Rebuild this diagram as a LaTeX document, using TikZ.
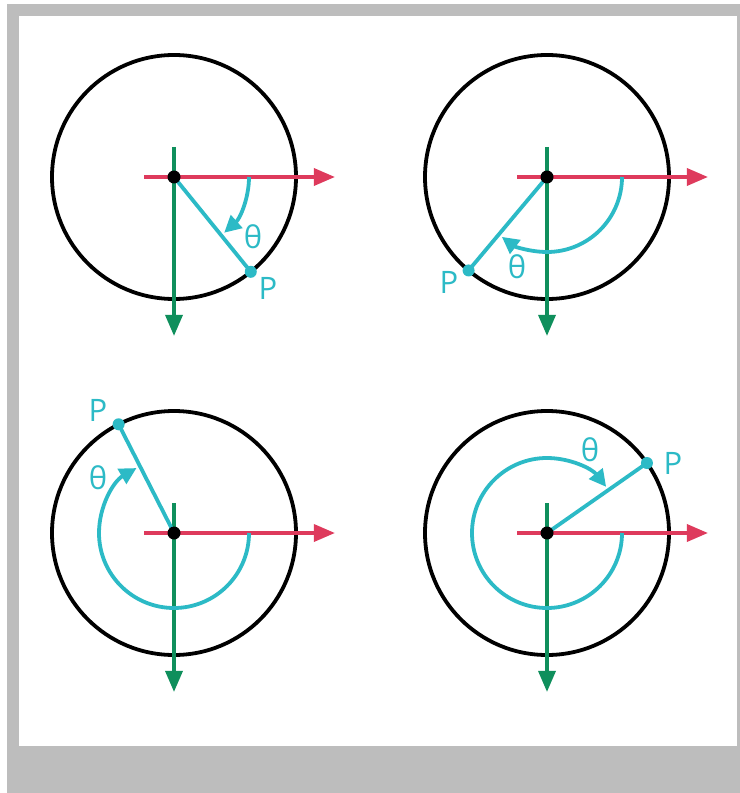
\documentclass[tikz,border=0pt]{standalone}
\usepackage{fontspec}
\setsansfont{Open Sans}
\usepackage{xcolor}
\usepackage{tikz}
\usetikzlibrary{arrows.meta}

\definecolor{framegray}{HTML}{BDBDBD}
\definecolor{axisred}{HTML}{DE3A5C}
\definecolor{axisgreen}{HTML}{0F8F5C}
\definecolor{polarcyan}{HTML}{2CBAC6}

\begin{document}
\begin{tikzpicture}[
    x=0.025cm, y=-0.025cm,
    line width=2.7pt,
    font=\sffamily\fontsize{22}{24}\selectfont,
    rim/.style={draw=black},
    xaxis/.style={draw=axisred, -{Triangle[length=15pt, width=12pt]}},
    yaxis/.style={draw=axisgreen, -{Triangle[length=15pt, width=12pt]}},
    ray/.style={draw=polarcyan},
    sweep/.style={draw=polarcyan, -{Triangle[length=12pt, width=12pt]}},
    lbl/.style={text=polarcyan, inner sep=0pt}
]

% =========================================================
% FRAME
% =========================================================
\fill[white] (0,0) rectangle (740,793);
\fill[framegray] (7,4) rectangle (740,793);
\fill[white] (19,16) rectangle (737,746);

% =========================================================
% TOP LEFT: theta = 51
% =========================================================
\begin{scope}[shift={(174,177)}]

% circle and axes
\draw[rim] (0,0) circle (122);
\draw[xaxis] (-30,0) -- (161,0);
\draw[yaxis] (0,-30) -- (0,159);

% radius and angle
\coordinate (O1) at (0,0);
\coordinate (P1) at (51:122);
\draw[sweep] (0:75) arc[start angle=0, end angle=48, radius=75];
\draw[ray] (O1) -- (P1);

% points and labels
\fill (O1) circle (6.5);
\fill[polarcyan] (P1) circle (6);
\node[lbl] (p1) at (94,111) {P};
\node[lbl] (t1) at (79,60) {θ};

\end{scope}

% =========================================================
% TOP RIGHT: theta = 130
% =========================================================
\begin{scope}[shift={(547,177)}]

% circle and axes
\draw[rim] (0,0) circle (122);
\draw[xaxis] (-30,0) -- (161,0);
\draw[yaxis] (0,-30) -- (0,159);

% radius and angle
\coordinate (O2) at (0,0);
\coordinate (P2) at (130:122);
\draw[sweep] (0:75) arc[start angle=0, end angle=127, radius=75];
\draw[ray] (O2) -- (P2);

% points and labels
\fill (O2) circle (6.5);
\fill[polarcyan] (P2) circle (6);
\node[lbl] (p2) at (-98,105) {P};
\node[lbl] (t2) at (-30,90) {θ};

\end{scope}

% =========================================================
% BOTTOM LEFT: theta = 243
% =========================================================
\begin{scope}[shift={(174,533)}]

% circle and axes
\draw[rim] (0,0) circle (122);
\draw[xaxis] (-30,0) -- (161,0);
\draw[yaxis] (0,-30) -- (0,159);

% radius and angle
\coordinate (O3) at (0,0);
\coordinate (P3) at (243:122);
\draw[sweep] (0:75) arc[start angle=0, end angle=240, radius=75];
\draw[ray] (O3) -- (P3);

% points and labels
\fill (O3) circle (6.5);
\fill[polarcyan] (P3) circle (6);
\node[lbl] (p3) at (-76,-123) {P};
\node[lbl] (t3) at (-76,-55) {θ};

\end{scope}

% =========================================================
% BOTTOM RIGHT: theta = 325
% =========================================================
\begin{scope}[shift={(547,533)}]

% circle and axes
\draw[rim] (0,0) circle (122);
\draw[xaxis] (-30,0) -- (161,0);
\draw[yaxis] (0,-30) -- (0,159);

% radius and angle
\coordinate (O4) at (0,0);
\coordinate (P4) at (325:122);
\draw[sweep] (0:75) arc[start angle=0, end angle=322, radius=75];
\draw[ray] (O4) -- (P4);

% points and labels
\fill (O4) circle (6.5);
\fill[polarcyan] (P4) circle (6);
\node[lbl] (p4) at (126,-70) {P};
\node[lbl] (t4) at (43,-83) {θ};

\end{scope}

\end{tikzpicture}
\end{document}
